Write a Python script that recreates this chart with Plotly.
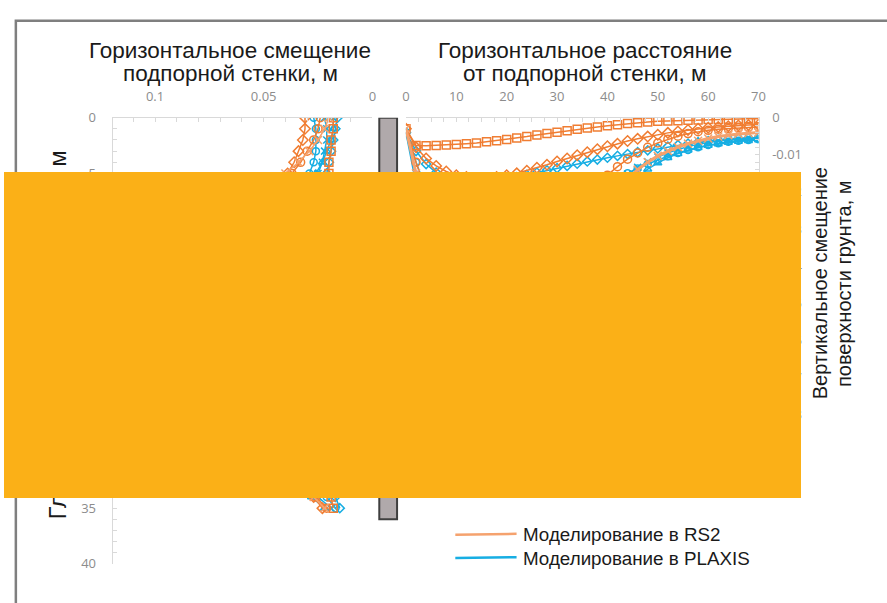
import plotly.graph_objects as go

W, H = 887, 603

# ---------------- data ----------------
# Depth below ground surface along the retaining wall, m
depth_m = [0, 1, 2, 3, 4, 5, 6, 7, 8, 9, 10, 11, 12, 13, 14, 15, 16, 17,
           18, 19, 20, 21, 22, 23, 24, 25, 26, 27, 28, 29, 30, 31, 32, 33, 34, 35]

# Horizontal wall displacement, m (RS2 excavation stages)
rs2_wall_1 = [0.018, 0.018, 0.019, 0.019, 0.020, 0.020, 0.021, 0.022, 0.023, 0.024, 0.025, 0.026,
              0.027, 0.028, 0.029, 0.030, 0.030, 0.031, 0.031, 0.031, 0.031, 0.031, 0.030, 0.030,
              0.029, 0.028, 0.027, 0.026, 0.025, 0.024, 0.023, 0.022, 0.021, 0.020, 0.019, 0.018]
rs2_wall_2 = [0.031, 0.031, 0.032, 0.034, 0.036, 0.039, 0.042, 0.045, 0.048, 0.051, 0.054, 0.057,
              0.059, 0.061, 0.063, 0.064, 0.065, 0.066, 0.066, 0.066, 0.065, 0.064, 0.062, 0.060,
              0.058, 0.055, 0.052, 0.049, 0.046, 0.043, 0.040, 0.037, 0.034, 0.031, 0.027, 0.023]
rs2_wall_3 = [0.024, 0.025, 0.027, 0.030, 0.033, 0.037, 0.041, 0.046, 0.051, 0.056, 0.061, 0.066,
              0.070, 0.074, 0.077, 0.080, 0.082, 0.084, 0.085, 0.085, 0.085, 0.084, 0.082, 0.079,
              0.075, 0.071, 0.066, 0.061, 0.056, 0.051, 0.046, 0.041, 0.036, 0.031, 0.026, 0.021]
rs2_wall_4 = [0.020, 0.022, 0.025, 0.029, 0.034, 0.040, 0.046, 0.053, 0.060, 0.067, 0.073, 0.079,
              0.084, 0.088, 0.092, 0.095, 0.097, 0.099, 0.100, 0.100, 0.100, 0.099, 0.097, 0.094,
              0.090, 0.085, 0.079, 0.073, 0.066, 0.059, 0.052, 0.045, 0.039, 0.033, 0.027, 0.022]

# Horizontal wall displacement, m (PLAXIS excavation stages)
plx_wall_1 = [0.016, 0.017, 0.018, 0.019, 0.020, 0.021, 0.022, 0.023, 0.025, 0.026, 0.027, 0.028,
              0.029, 0.030, 0.031, 0.032, 0.032, 0.033, 0.033, 0.033, 0.033, 0.032, 0.032, 0.031,
              0.030, 0.029, 0.028, 0.027, 0.026, 0.025, 0.024, 0.022, 0.021, 0.019, 0.017, 0.015]
plx_wall_2 = [0.027, 0.026, 0.026, 0.026, 0.027, 0.029, 0.032, 0.036, 0.040, 0.044, 0.048, 0.052,
              0.056, 0.059, 0.062, 0.064, 0.066, 0.067, 0.068, 0.068, 0.067, 0.066, 0.064, 0.062,
              0.059, 0.056, 0.053, 0.049, 0.045, 0.041, 0.037, 0.033, 0.029, 0.025, 0.021, 0.017]
plx_wall_3 = [0.022, 0.021, 0.021, 0.022, 0.023, 0.025, 0.029, 0.034, 0.040, 0.046, 0.052, 0.058,
              0.063, 0.068, 0.072, 0.076, 0.079, 0.081, 0.083, 0.084, 0.084, 0.083, 0.081, 0.078,
              0.075, 0.071, 0.066, 0.061, 0.056, 0.050, 0.045, 0.040, 0.035, 0.030, 0.025, 0.019]
plx_wall_4 = [0.018, 0.018, 0.019, 0.021, 0.023, 0.026, 0.031, 0.037, 0.044, 0.051, 0.058, 0.065,
              0.071, 0.077, 0.082, 0.087, 0.091, 0.094, 0.096, 0.097, 0.097, 0.096, 0.094, 0.091,
              0.087, 0.082, 0.077, 0.071, 0.065, 0.058, 0.052, 0.046, 0.040, 0.034, 0.028, 0.022]

# Distance from the retaining wall, m
distance_m = [0, 2, 4, 6, 8, 10, 12, 14, 16, 18, 20, 22, 24, 26, 28, 30, 32, 34,
              36, 38, 40, 42, 44, 46, 48, 50, 52, 54, 56, 58, 60, 62, 64, 66, 68, 70]

# Vertical ground-surface displacement, m (RS2)
rs2_settle_1 = [-0.0030, -0.0075, -0.0076, -0.0075, -0.0074, -0.0072, -0.0070, -0.0068, -0.0065,
                -0.0062, -0.0059, -0.0055, -0.0051, -0.0047, -0.0043, -0.0039, -0.0035, -0.0031,
                -0.0028, -0.0025, -0.0022, -0.0019, -0.0016, -0.0014, -0.0012, -0.0010, -0.0009,
                -0.0008, -0.0007, -0.0006, -0.0005, -0.0005, -0.0004, -0.0004, -0.0003, -0.0003]
rs2_settle_2 = [-0.0030, -0.0080, -0.0110, -0.0130, -0.0145, -0.0155, -0.0160, -0.0163, -0.0163,
                -0.0160, -0.0155, -0.0150, -0.0143, -0.0135, -0.0127, -0.0118, -0.0110, -0.0101,
                -0.0093, -0.0085, -0.0077, -0.0070, -0.0063, -0.0057, -0.0051, -0.0046, -0.0041,
                -0.0037, -0.0033, -0.0030, -0.0027, -0.0025, -0.0023, -0.0021, -0.0020, -0.0019]
rs2_settle_3 = [-0.0030, -0.0120, -0.0200, -0.0270, -0.0330, -0.0380, -0.0410, -0.0430, -0.0440,
                -0.0440, -0.0430, -0.0410, -0.0390, -0.0360, -0.0330, -0.0300, -0.0270, -0.0240,
                -0.0210, -0.0180, -0.0155, -0.0132, -0.0112, -0.0095, -0.0080, -0.0068, -0.0058,
                -0.0050, -0.0043, -0.0038, -0.0034, -0.0031, -0.0029, -0.0027, -0.0026, -0.0025]
rs2_settle_4 = [-0.0030, -0.0150, -0.0270, -0.0380, -0.0470, -0.0540, -0.0590, -0.0620, -0.0640,
                -0.0640, -0.0630, -0.0610, -0.0580, -0.0540, -0.0500, -0.0460, -0.0410, -0.0360,
                -0.0310, -0.0270, -0.0230, -0.0195, -0.0165, -0.0140, -0.0120, -0.0103, -0.0090,
                -0.0079, -0.0070, -0.0062, -0.0056, -0.0051, -0.0047, -0.0044, -0.0042, -0.0040]

# Vertical ground-surface displacement, m (PLAXIS)
plx_settle_1 = [-0.0040, -0.0090, -0.0125, -0.0148, -0.0162, -0.0170, -0.0174, -0.0175, -0.0173,
                -0.0170, -0.0165, -0.0160, -0.0154, -0.0148, -0.0142, -0.0136, -0.0130, -0.0124,
                -0.0118, -0.0113, -0.0108, -0.0103, -0.0098, -0.0093, -0.0088, -0.0083, -0.0078,
                -0.0074, -0.0070, -0.0066, -0.0063, -0.0060, -0.0058, -0.0056, -0.0055, -0.0054]
plx_settle_2 = [-0.0040, -0.0120, -0.0190, -0.0250, -0.0290, -0.0320, -0.0340, -0.0350, -0.0352,
                -0.0350, -0.0343, -0.0333, -0.0320, -0.0305, -0.0288, -0.0270, -0.0252, -0.0233,
                -0.0215, -0.0197, -0.0180, -0.0164, -0.0150, -0.0137, -0.0125, -0.0114, -0.0104,
                -0.0095, -0.0087, -0.0080, -0.0074, -0.0069, -0.0065, -0.0062, -0.0060, -0.0058]
plx_settle_3 = [-0.0040, -0.0150, -0.0260, -0.0350, -0.0420, -0.0470, -0.0500, -0.0520, -0.0525,
                -0.0520, -0.0505, -0.0485, -0.0460, -0.0430, -0.0395, -0.0360, -0.0325, -0.0290,
                -0.0257, -0.0226, -0.0198, -0.0173, -0.0152, -0.0134, -0.0119, -0.0106, -0.0095,
                -0.0086, -0.0078, -0.0072, -0.0067, -0.0063, -0.0060, -0.0058, -0.0057, -0.0056]
plx_settle_4 = [-0.0040, -0.0180, -0.0320, -0.0440, -0.0540, -0.0620, -0.0670, -0.0700, -0.0715,
                -0.0715, -0.0705, -0.0685, -0.0655, -0.0615, -0.0570, -0.0520, -0.0465, -0.0410,
                -0.0355, -0.0305, -0.0260, -0.0220, -0.0187, -0.0160, -0.0139, -0.0122, -0.0108,
                -0.0097, -0.0088, -0.0081, -0.0075, -0.0071, -0.0067, -0.0064, -0.0062, -0.0060]

# Wall embedment depth, m
wall_depth_m = 36

# Axis tick labels
wall_disp_ticks = [0.1, 0.05, 0]
wall_disp_labels = ["0.1", "0.05", "0"]
depth_ticks = [0, 5, 10, 15, 20, 25, 30, 35, 40]
distance_ticks = [0, 10, 20, 30, 40, 50, 60, 70]
settle_ticks = [0, -0.01, -0.02, -0.03, -0.04, -0.05, -0.06, -0.07, -0.08]
settle_labels = ["0", "-0.01", "-0.02", "-0.03", "-0.04", "-0.05", "-0.06", "-0.07", "-0.08"]

series_names = ["Моделирование в RS2", "Моделирование в PLAXIS"]

# ---------------- styling ----------------
ORANGE = "#F07D32"
ORANGE_LIGHT = "#F5A26E"
BLUE = "#17AEE3"
AXIS_GREY = "#D9D9D9"
SANS = "Liberation Sans, Arial, sans-serif"
TICK_FONT = dict(family="Open Sans, Arial, sans-serif", size=13, color="#8C8C8C")


def px_x(p):
    return p / W


def px_y(p):
    return 1 - p / H


fig = go.Figure()

plx_wall = [plx_wall_1, plx_wall_2, plx_wall_3, plx_wall_4]
rs2_wall = [rs2_wall_1, rs2_wall_2, rs2_wall_3, rs2_wall_4]
plx_settle = [plx_settle_1, plx_settle_2, plx_settle_3, plx_settle_4]
rs2_settle = [rs2_settle_1, rs2_settle_2, rs2_settle_3, rs2_settle_4]

plx_symbols = ["diamond-open", "circle-open", "x-thin-open", "triangle-up-open"]
rs2_symbols = ["square-open", "diamond-open", "circle-open", "x-thin-open"]
rs2_colors = [ORANGE, ORANGE, ORANGE, ORANGE_LIGHT]

# PLAXIS first, RS2 drawn over it
for vals, sym in zip(plx_wall, plx_symbols):
    fig.add_trace(go.Scatter(x=vals, y=depth_m, mode="lines+markers", xaxis="x", yaxis="y",
                             line=dict(color=BLUE, width=1.5),
                             marker=dict(symbol=sym, size=7, color=BLUE, line=dict(width=1.5, color=BLUE)),
                             name=series_names[1], showlegend=False))
for vals, sym, col in zip(rs2_wall, rs2_symbols, rs2_colors):
    fig.add_trace(go.Scatter(x=vals, y=depth_m, mode="lines+markers", xaxis="x", yaxis="y",
                             line=dict(color=col, width=1.5),
                             marker=dict(symbol=sym, size=8, color=col, line=dict(width=1.5, color=col)),
                             name=series_names[0], showlegend=False))

for vals, sym in zip(plx_settle, plx_symbols):
    fig.add_trace(go.Scatter(x=distance_m, y=vals, mode="lines+markers", xaxis="x2", yaxis="y2",
                             line=dict(color=BLUE, width=1.5),
                             marker=dict(symbol=sym, size=7, color=BLUE, line=dict(width=1.5, color=BLUE)),
                             name=series_names[1], showlegend=False))
for vals, sym, col in zip(rs2_settle, rs2_symbols, rs2_colors):
    fig.add_trace(go.Scatter(x=distance_m, y=vals, mode="lines+markers", xaxis="x2", yaxis="y2",
                             line=dict(color=col, width=1.5 if col == ORANGE else 3),
                             marker=dict(symbol=sym, size=8, color=col, line=dict(width=1.5, color=col)),
                             name=series_names[0], showlegend=False))

y_top, y_bot_left, y_bot_right = px_y(112), px_y(572), px_y(418)

axis_common = dict(showline=True, linecolor=AXIS_GREY, linewidth=1, showgrid=False, zeroline=False,
                   ticks="inside", ticklen=4, tickcolor=AXIS_GREY, tickfont=TICK_FONT)

fig.update_layout(
    width=W, height=H, margin=dict(l=0, r=0, t=0, b=0),
    paper_bgcolor="white", plot_bgcolor="rgba(0,0,0,0)", showlegend=False,
    xaxis=dict(domain=[px_x(110), px_x(373)], range=[0.1195, 0], side="top", anchor="y",
               tickvals=wall_disp_ticks, ticktext=wall_disp_labels,
               minor=dict(dtick=0.01, ticks="inside", ticklen=4, tickcolor=AXIS_GREY),
               ticklabelstandoff=10, **axis_common),
    yaxis=dict(domain=[y_bot_left, y_top], range=[40, 0], anchor="x",
               tickvals=depth_ticks,
               minor=dict(dtick=1, ticks="inside", ticklen=4, tickcolor=AXIS_GREY),
               ticklabelstandoff=13, **axis_common),
    xaxis2=dict(domain=[px_x(407), px_x(764)], range=[0, 70], side="top", anchor="y2",
                tickvals=distance_ticks,
                minor=dict(dtick=2.5, ticks="inside", ticklen=4, tickcolor=AXIS_GREY),
                ticklabelstandoff=10, **axis_common),
    yaxis2=dict(domain=[y_bot_right, y_top], range=[-0.08, 0], side="right", anchor="x2",
                tickvals=settle_ticks, ticktext=settle_labels,
                minor=dict(dtick=0.002, ticks="inside", ticklen=4, tickcolor=AXIS_GREY),
                ticklabelstandoff=10, **axis_common),
)

shapes = [
    # retaining wall
    dict(type="rect", xref="paper", yref="y", x0=px_x(380), x1=px_x(398), y0=0, y1=wall_depth_m,
         fillcolor="#B0A9AB", line=dict(color="#3F3F3F", width=2), layer="below"),
    # chart frame
    dict(type="rect", xref="paper", yref="paper", x0=px_x(12), x1=1.05, y0=-0.05, y1=px_y(12),
         line=dict(color="#7F7F7F", width=2.5), fillcolor="rgba(0,0,0,0)", layer="above"),
    # legend swatches
    dict(type="line", xref="paper", yref="paper", x0=px_x(457), x1=px_x(519), y0=px_y(542), y1=px_y(541),
         line=dict(color=ORANGE_LIGHT, width=2.5)),
    dict(type="line", xref="paper", yref="paper", x0=px_x(457), x1=px_x(519), y0=px_y(566), y1=px_y(565),
         line=dict(color=BLUE, width=2.5)),
]
fig.update_layout(shapes=shapes)


def label(text, x, y, size, angle=0, anchor="center"):
    return dict(text=text, x=px_x(x), y=px_y(y), xref="paper", yref="paper", showarrow=False,
                textangle=angle, xanchor=anchor, yanchor="middle",
                font=dict(family=SANS, size=size, color="#1A1A1A"))


annotations = [
    label("Горизонтальное смещение", 229, 43, 22.5),
    label("подпорной стенки, м", 229, 66, 22.5),
    label("Горизонтальное расстояние", 588, 43, 22.5),
    label("от подпорной стенки, м", 588, 66, 22.5),
    label("Глубина от поверхности грунта, м", 55, 336, 23.5, angle=-90),
    label("Вертикальное смещение", 826, 283, 20, angle=-90),
    label("поверхности грунта, м", 850, 283, 20, angle=-90),
    label(series_names[0], 523, 542, 18.8, anchor="left"),
    label(series_names[1], 523, 566, 18.8, anchor="left"),
    # solid overlay block, placed last so it sits over everything beneath it
    dict(text=" ", x=0, y=px_y(168), xref="paper", yref="paper", showarrow=False,
         xanchor="left", yanchor="top", width=797, height=326, borderpad=0, borderwidth=0,
         bgcolor="#FBB017"),
]
fig.update_layout(annotations=annotations)

fig.write_html("out.html")
